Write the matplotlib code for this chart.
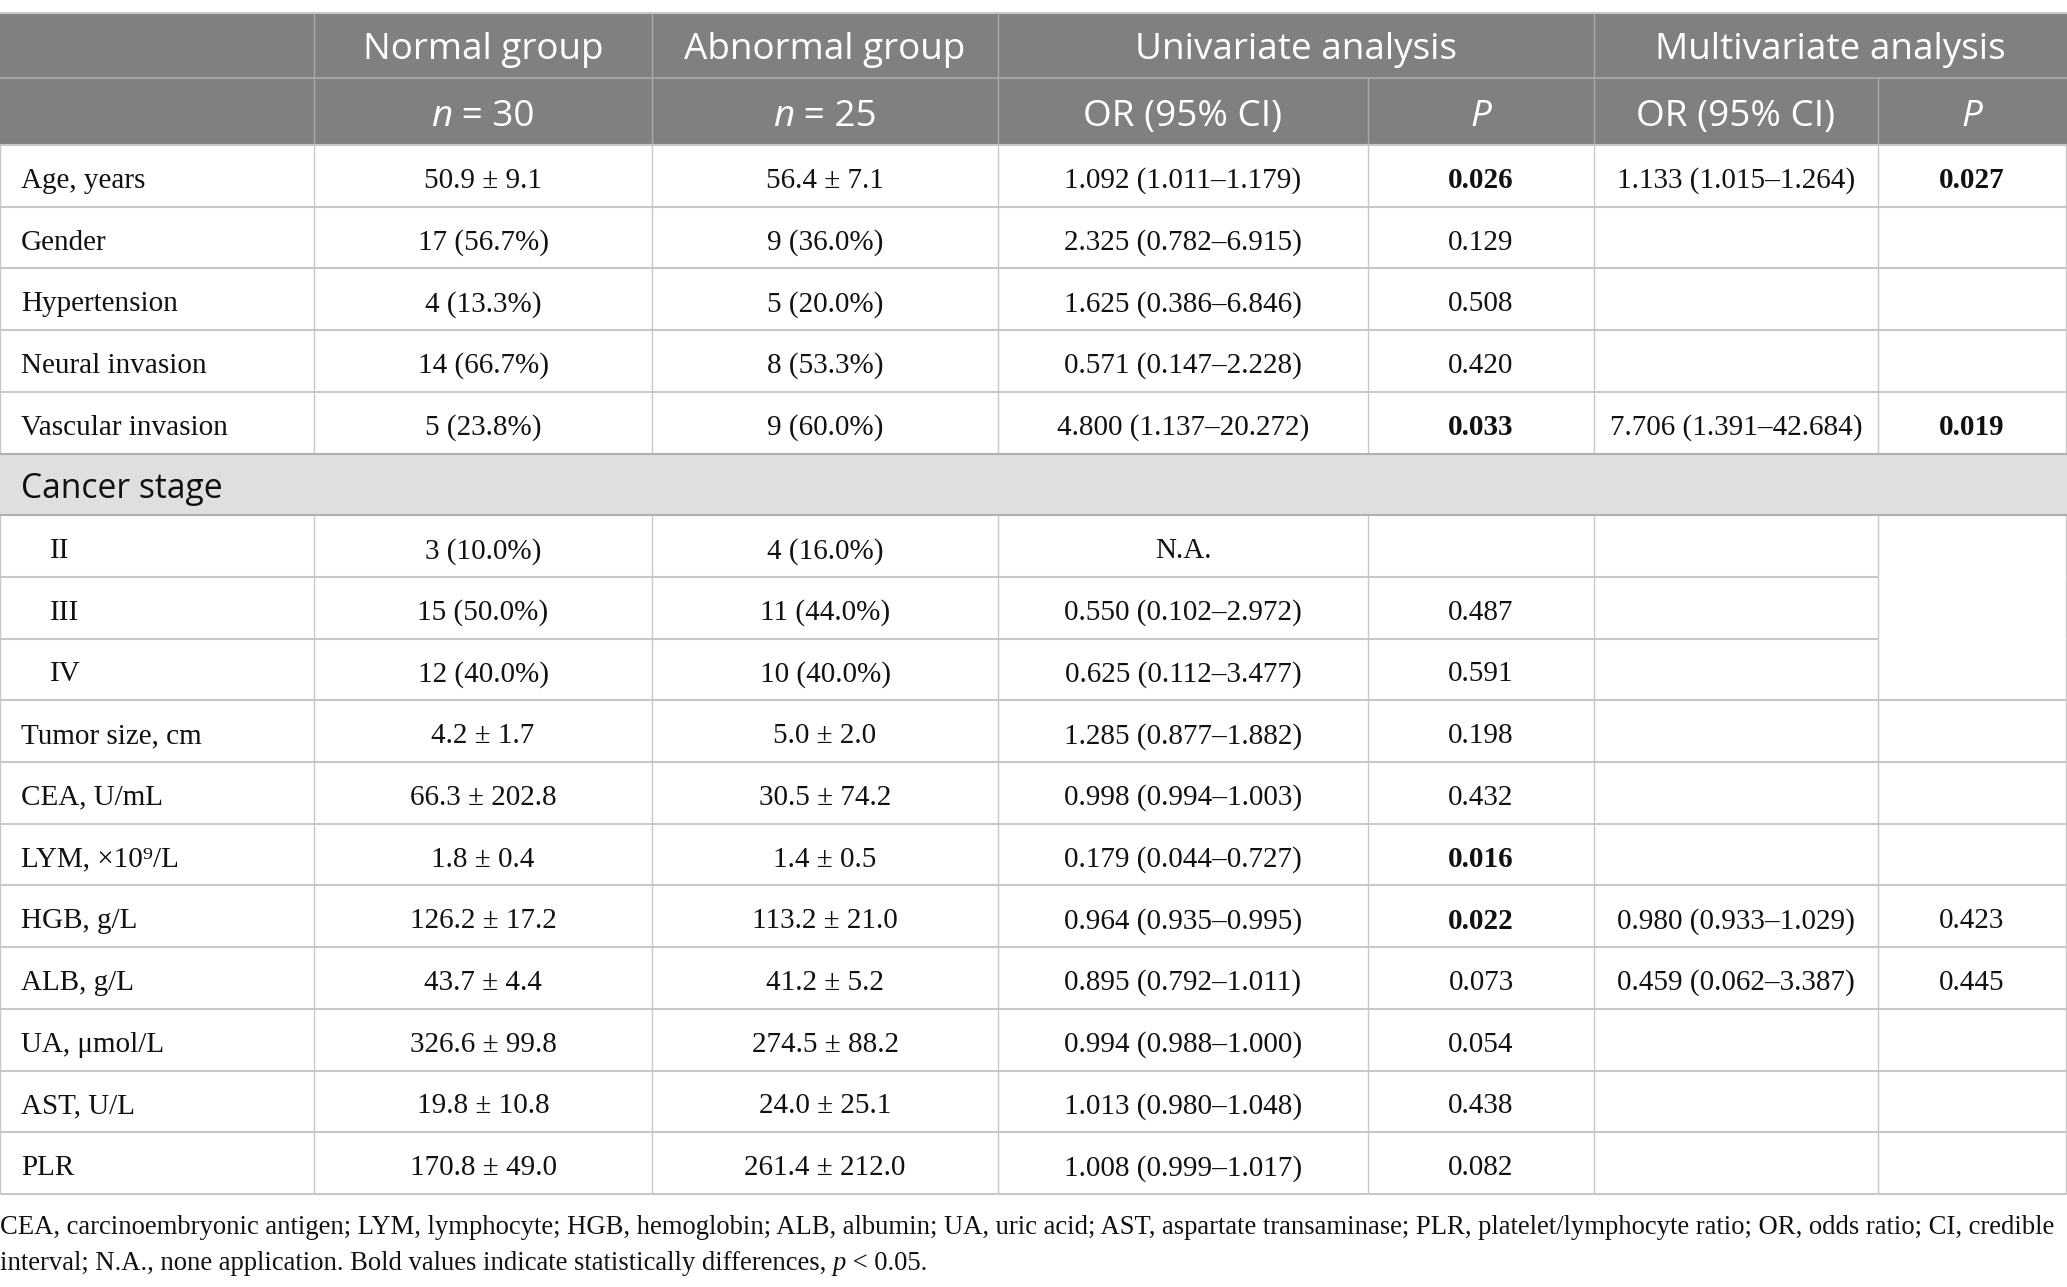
import matplotlib
matplotlib.use("Agg")
import matplotlib.pyplot as plt
from matplotlib.patches import Rectangle

# ---------------- data ----------------
header_top = ["", "Normal group", "Abnormal group", "Univariate analysis", "Multivariate analysis"]
group_n = ["30", "25"]
sub_headers = ["OR (95% CI)", "P", "OR (95% CI)", "P"]

labels = ["Age, years", "Gender", "Hypertension", "Neural invasion", "Vascular invasion",
          "Cancer stage", "II", "III", "IV", "Tumor size, cm", "CEA, U/mL", "LYM, ×10⁹/L",
          "HGB, g/L", "ALB, g/L", "UA, μmol/L", "AST, U/L", "PLR"]
row_kind = ["row", "row", "row", "row", "row", "section", "sub", "sub", "sub",
            "row", "row", "row", "row", "row", "row", "row", "row"]
normal = ["50.9 ± 9.1", "17 (56.7%)", "4 (13.3%)", "14 (66.7%)", "5 (23.8%)", "",
          "3 (10.0%)", "15 (50.0%)", "12 (40.0%)", "4.2 ± 1.7", "66.3 ± 202.8", "1.8 ± 0.4",
          "126.2 ± 17.2", "43.7 ± 4.4", "326.6 ± 99.8", "19.8 ± 10.8", "170.8 ± 49.0"]
abnormal = ["56.4 ± 7.1", "9 (36.0%)", "5 (20.0%)", "8 (53.3%)", "9 (60.0%)", "",
            "4 (16.0%)", "11 (44.0%)", "10 (40.0%)", "5.0 ± 2.0", "30.5 ± 74.2", "1.4 ± 0.5",
            "113.2 ± 21.0", "41.2 ± 5.2", "274.5 ± 88.2", "24.0 ± 25.1", "261.4 ± 212.0"]
uni_or = ["1.092 (1.011–1.179)", "2.325 (0.782–6.915)", "1.625 (0.386–6.846)",
          "0.571 (0.147–2.228)", "4.800 (1.137–20.272)", "", "N.A.", "0.550 (0.102–2.972)",
          "0.625 (0.112–3.477)", "1.285 (0.877–1.882)", "0.998 (0.994–1.003)",
          "0.179 (0.044–0.727)", "0.964 (0.935–0.995)", "0.895 (0.792–1.011)",
          "0.994 (0.988–1.000)", "1.013 (0.980–1.048)", "1.008 (0.999–1.017)"]
uni_p = ["0.026", "0.129", "0.508", "0.420", "0.033", "", "", "0.487", "0.591", "0.198",
         "0.432", "0.016", "0.022", "0.073", "0.054", "0.438", "0.082"]
multi_or = ["1.133 (1.015–1.264)", "", "", "", "7.706 (1.391–42.684)", "", "", "", "", "",
            "", "", "0.980 (0.933–1.029)", "0.459 (0.062–3.387)", "", "", ""]
multi_p = ["0.027", "", "", "", "0.019", "", "", "", "", "", "", "", "0.423", "0.445",
           "", "", ""]

foot1 = ("CEA, carcinoembryonic antigen; LYM, lymphocyte; HGB, hemoglobin; ALB, albumin; "
         "UA, uric acid; AST, aspartate transaminase; PLR, platelet/lymphocyte ratio; "
         "OR, odds ratio; CI, credible")
foot2 = ["interval; N.A., none application. Bold values indicate statistically differences, ",
         "p", " < 0.05."]

# ---------------- layout ----------------
W, H = 2067, 1287
fig = plt.figure(figsize=(W / 100, H / 100), dpi=100)
ax = fig.add_axes([0, 0, 1, 1])
ax.set_xlim(0, W)
ax.set_ylim(H, 0)
ax.axis("off")
renderer = fig.canvas.get_renderer()

SANS = ["Open Sans", "DejaVu Sans"]
SERIF = ["Liberation Serif", "DejaVu Serif"]

col_edges = [0, 314, 652, 998, 1368, 1594, 1878, 2066]
top = 13
hdr_mid = 78
body_top = 145
rh = 61.7
n_rows = len(labels)
body_bot = body_top + n_rows * rh

HEAD_BG = "#808080"
HEAD_LINE = "#a9a9a9"
GRID = "#c8c8c8"
BAND = "#dfdfe0"
BAND_LINE = "#b0b0b0"
TXT = "#111111"

HFS = 26.6
BFS = 21
SFS = 24.2
FFS = 19.2
DY = 5  # text sits slightly below cell centre


def rich(x, y, parts, ha="center", **common):
    texts, widths = [], []
    for s, kw in parts:
        t = ax.text(0, y, s, ha="left", va="center", **common, **kw)
        widths.append(t.get_window_extent(renderer).width)
        texts.append(t)
    total = sum(widths)
    xs = x - total / 2 if ha == "center" else x
    for t, w in zip(texts, widths):
        t.set_x(xs)
        xs += w


# header background
ax.add_patch(Rectangle((0, top), W, body_top - top, facecolor=HEAD_BG, edgecolor="none"))
ax.hlines(top, 0, W, color=GRID, lw=1.5)
ax.hlines(hdr_mid, 0, W, color=HEAD_LINE, lw=1.2)
for e in [col_edges[1], col_edges[2], col_edges[3], col_edges[5]]:
    ax.vlines(e, top, hdr_mid, color=HEAD_LINE, lw=1.0)
for e in col_edges[1:-1]:
    ax.vlines(e, hdr_mid, body_top, color=HEAD_LINE, lw=1.0)

# header texts row 1
y1 = (top + hdr_mid) / 2 + 4
spans = [(1, 2), (2, 3), (3, 5), (5, 7)]
for (a, b), s in zip(spans, header_top[1:]):
    ax.text((col_edges[a] + col_edges[b]) / 2, y1, s, ha="center", va="center",
            color="white", fontsize=HFS, family=SANS)

# header texts row 2
y2 = (hdr_mid + body_top) / 2 + 5
for i, n in enumerate(group_n):
    cx = (col_edges[1 + i] + col_edges[2 + i]) / 2
    rich(cx, y2, [("n", {"fontstyle": "italic"}), (" = " + n, {})],
         color="white", fontsize=HFS, family=SANS)
for j, s in enumerate(sub_headers):
    cx = (col_edges[3 + j] + col_edges[4 + j]) / 2
    ax.text(cx, y2, s, ha="center", va="center", color="white", fontsize=HFS,
            family=SANS, fontstyle="italic" if s == "P" else "normal")

# body
columns = [normal, abnormal, uni_or, uni_p, multi_or, multi_p]
for i in range(n_rows):
    y0 = body_top + i * rh
    yc = y0 + rh / 2 + DY
    kind = row_kind[i]
    if kind == "section":
        ax.add_patch(Rectangle((0, y0), W, rh, facecolor=BAND, edgecolor="none", zorder=0))
        ax.text(21, yc, labels[i], ha="left", va="center", fontsize=SFS, family=SANS,
                color=TXT)
        continue
    for e in col_edges:
        ax.vlines(e, y0, y0 + rh, color=GRID, lw=1.0)
    lx = 50 if kind == "sub" else 21
    ax.text(lx, yc, labels[i], ha="left", va="center", fontsize=BFS, family=SERIF,
            color=TXT)
    for j, col in enumerate(columns):
        s = col[i]
        if not s:
            continue
        bold = (j in (3, 5)) and float(s) < 0.05
        cx = (col_edges[1 + j] + col_edges[2 + j]) / 2
        ax.text(cx, yc, s, ha="center", va="center", fontsize=BFS, family=SERIF,
                color=TXT, fontweight="bold" if bold else "normal")

# horizontal lines
for i in range(n_rows + 1):
    y = body_top + i * rh
    prev_kind = row_kind[i - 1] if i > 0 else None
    next_kind = row_kind[i] if i < n_rows else None
    if prev_kind == "section" or next_kind == "section":
        ax.hlines(y, 0, W, color=BAND_LINE, lw=1.5)
    elif prev_kind == "sub" and next_kind == "sub":
        ax.hlines(y, 0, col_edges[6], color=GRID, lw=1.5)
    else:
        ax.hlines(y, 0, W, color=GRID, lw=1.5)

# footnote
ax.text(0, 1228, foot1, ha="left", va="center", fontsize=FFS, family=SERIF, color=TXT)
rich(0, 1264, [(foot2[0], {}), (foot2[1], {"fontstyle": "italic"}), (foot2[2], {})],
     ha="left", fontsize=FFS, family=SERIF, color=TXT)

fig.savefig("out.png", dpi=100, facecolor="white")
